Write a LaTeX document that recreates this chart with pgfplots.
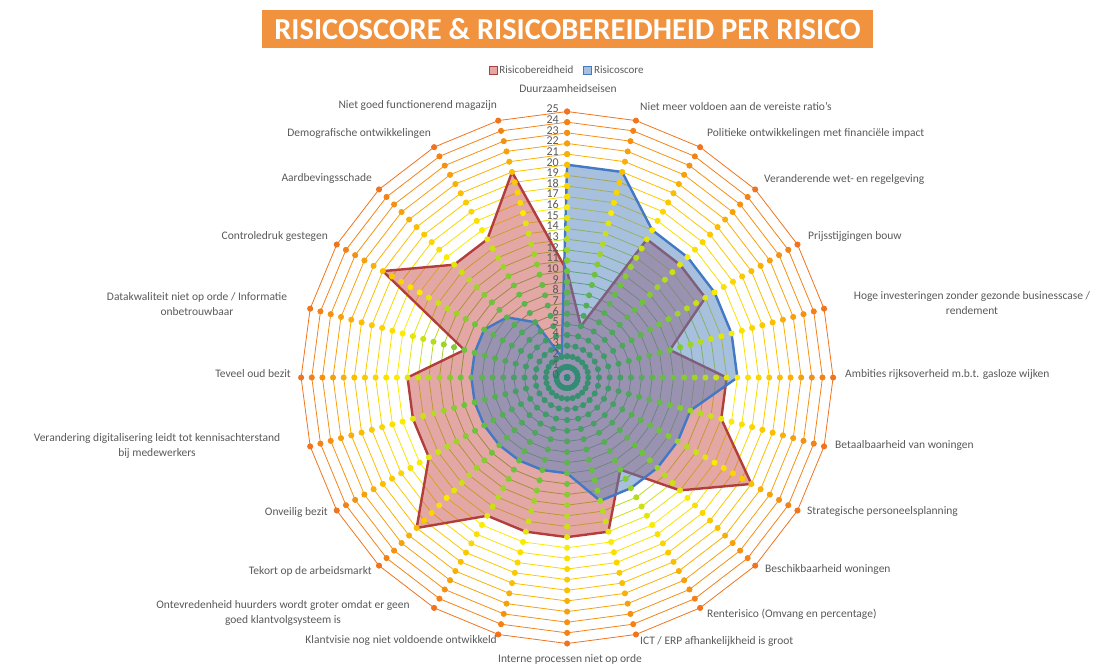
\documentclass[border=0pt]{standalone}
\usepackage{fontspec}
\setmainfont{Carlito}
\usepackage{pgfplots}
\pgfplotsset{compat=1.18}
\usepackage{pgfplotstable}
\usepgfplotslibrary{polar}

\definecolor{ring0}{RGB}{46,134,120}
\definecolor{ring1}{RGB}{51,139,116}
\definecolor{ring2}{RGB}{56,144,112}
\definecolor{ring3}{RGB}{60,150,108}
\definecolor{ring4}{RGB}{65,155,104}
\definecolor{ring5}{RGB}{70,160,100}
\definecolor{ring6}{RGB}{78,167,92}
\definecolor{ring7}{RGB}{86,174,84}
\definecolor{ring8}{RGB}{94,181,76}
\definecolor{ring9}{RGB}{102,188,68}
\definecolor{ring10}{RGB}{110,195,60}
\definecolor{ring11}{RGB}{133,203,50}
\definecolor{ring12}{RGB}{157,212,40}
\definecolor{ring13}{RGB}{180,220,30}
\definecolor{ring14}{RGB}{203,225,20}
\definecolor{ring15}{RGB}{227,230,10}
\definecolor{ring16}{RGB}{250,235,0}
\definecolor{ring17}{RGB}{250,224,0}
\definecolor{ring18}{RGB}{250,213,0}
\definecolor{ring19}{RGB}{250,201,0}
\definecolor{ring20}{RGB}{250,190,0}
\definecolor{ring21}{RGB}{248,175,6}
\definecolor{ring22}{RGB}{246,160,12}
\definecolor{ring23}{RGB}{244,145,18}
\definecolor{ring24}{RGB}{242,130,24}
\definecolor{ring25}{RGB}{240,115,30}
\definecolor{redline}{RGB}{178,62,60}
\definecolor{redfill}{RGB}{200,80,77}
\definecolor{blueline}{RGB}{66,120,196}
\definecolor{bluefill}{RGB}{79,129,189}
\definecolor{txt}{RGB}{89,89,89}
\definecolor{titlebg}{RGB}{241,146,62}

\pgfplotstableread{
a d
90 0
75 0
60 0
45 0
30 0
15 0
0 0
345 0
330 0
315 0
300 0
285 0
270 0
255 0
240 0
225 0
210 0
195 0
180 0
165 0
150 0
135 0
120 0
105 0
90 0
}\gridang

\pgfplotstableread{
a v
90 10
75 5
60 15
45 15
30 15
15 10
0 15
345 15
330 20
315 15
300 10
285 15
270 15
255 15
240 15
225 20
210 15
195 15
180 15
165 10
150 20
135 15
120 15
105 20
90 10
}\bereid

\pgfplotstableread{
a v
90 20
75 20
60 16
45 16
30 16
15 16
0 16
345 12
330 12
315 12
300 12
285 12
270 9
255 9
240 9
225 9
210 9
195 9
180 9
165 9
150 9
135 8
120 6
105 2
90 20
}\score

\begin{document}
\begin{tikzpicture}[x=1pt,y=1pt]
\path[use as bounding box] (0,0) rectangle (1116,668);
\fill[titlebg] (262,620) rectangle (873,658);
\node[text=white, inner sep=0, font=\bfseries\fontsize{30.5}{30.5}\selectfont] at (567.5,638.5) {RISICOSCORE \& RISICOBEREIDHEID PER RISICO};

\begin{polaraxis}[
  at={(533,273)}, anchor=center,
  scale only axis, width=532pt, height=532pt,
  xmin=0, xmax=360, ymin=0, ymax=25,
  hide axis, clip=false,
  legend style={at={(0.5,1.077)}, anchor=center, draw=none, fill=none,
    legend columns=2, font=\fontsize{11}{13}\selectfont, text=txt,
    /tikz/every even column/.append style={column sep=8pt}},
]
\pgfplotsinvokeforeach{0,...,25}{
  \addplot[forget plot, color=ring#1, line width=0.8pt, mark=*, mark size=2.6pt]
    table[x=a, y expr=#1] {\gridang};
}
\addplot[draw=redline, line width=2.4pt, fill=redfill, fill opacity=0.5, no marks,
  legend image code/.code={\draw[draw=redline, fill=redfill, line width=0.8pt] (0pt,-4pt) rectangle (8pt,4pt);}]
  table[x=a, y=v] {\bereid};
\addlegendentry{Risicobereidheid}
\addplot[draw=blueline, line width=2.4pt, fill=bluefill, fill opacity=0.5, no marks,
  legend image code/.code={\draw[draw=blueline, fill=bluefill, line width=0.8pt] (0pt,-4pt) rectangle (8pt,4pt);}]
  table[x=a, y=v] {\score};
\addlegendentry{Risicoscore}
\end{polaraxis}

\foreach \r in {0,...,25}
  \node[anchor=east, inner sep=0, text=txt, font=\fontsize{12}{12}\selectfont] at (559,{293+10.64*\r}) {\r};

\begin{scope}[every node/.style={inner sep=0, text=txt, font=\fontsize{11.5}{15.5}\selectfont}]
\node at (568,579) {Duurzaamheidseisen};
\node[anchor=west] at (640,562) {Niet meer voldoen aan de vereiste ratio's};
\node[anchor=west] at (707,534) {Politieke ontwikkelingen met financiële impact};
\node[anchor=west] at (764,488) {Veranderende wet- en regelgeving};
\node[anchor=west] at (808,431) {Prijsstijgingen bouw};
\node[align=center] at (972,365) {Hoge investeringen zonder gezonde businesscase /\\rendement};
\node[anchor=west] at (845,293) {Ambities rijksoverheid m.b.t. gasloze wijken};
\node[anchor=west] at (835,222) {Betaalbaarheid van woningen};
\node[anchor=west] at (807,156) {Strategische personeelsplanning};
\node[anchor=west] at (765,98) {Beschikbaarheid woningen};
\node[anchor=west] at (707,54) {Renterisico (Omvang en percentage)};
\node[anchor=west] at (640,27) {ICT / ERP afhankelijkheid is groot};
\node at (570,9) {Interne processen niet op orde};
\node[anchor=east] at (497,27) {Klantvisie nog niet voldoende ontwikkeld};
\node[align=center] at (283,55) {Ontevredenheid huurders wordt groter omdat er geen\\goed klantvolgsysteem is};
\node[anchor=east] at (372,97) {Tekort op de arbeidsmarkt};
\node[anchor=east] at (328,155) {Onveilig bezit};
\node[align=center] at (157,222) {Verandering digitalisering leidt tot kennisachterstand\\bij medewerkers};
\node[anchor=east] at (291,294) {Teveel oud bezit};
\node[align=center] at (197,364) {Datakwaliteit niet op orde / Informatie\\onbetrouwbaar};
\node[anchor=east] at (328,431) {Controledruk gestegen};
\node[anchor=east] at (372,489) {Aardbevingsschade};
\node[anchor=east] at (431,534) {Demografische ontwikkelingen};
\node[anchor=east] at (497,562) {Niet goed functionerend magazijn};
\end{scope}
\end{tikzpicture}
\end{document}
